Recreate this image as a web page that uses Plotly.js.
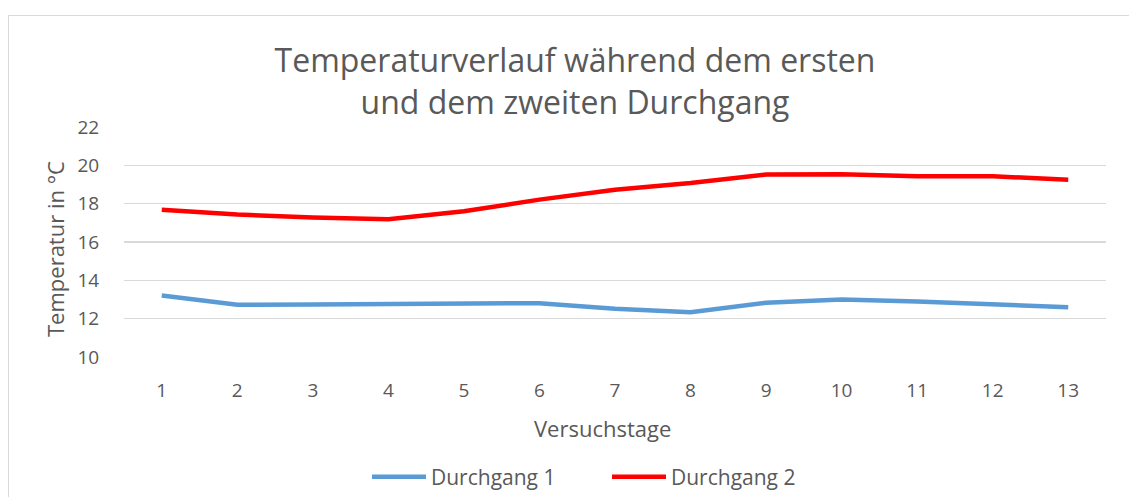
<!DOCTYPE html>
<html>
<head>
<meta charset="utf-8">
<script src="https://cdn.plot.ly/plotly-3.0.1.min.js"></script>
<style>
  html, body { margin: 0; padding: 0; background: #ffffff; }
  #frame { position: absolute; left: 8px; top: 15px; width: 1200px; height: 600px;
           border-left: 1px solid #d9d9d9; border-top: 1px solid #d9d9d9; }
  #chart { position: absolute; left: 0; top: 0; width: 1129px; height: 497px; }
</style>
</head>
<body>
<div id="frame"></div>
<div id="chart"></div>
<script>
const days = ['1','2','3','4','5','6','7','8','9','10','11','12','13'];
const durchgang1 = [13.21, 12.73, 12.74, 12.76, 12.83, 12.81, 12.52, 12.34, 12.83, 13.0, 12.9, 12.74, 12.6];
const durchgang2 = [17.68, 17.43, 17.28, 17.19, 17.6, 18.21, 18.73, 19.08, 19.52, 19.53, 19.43, 19.43, 19.25];
const yTicks = [10, 12, 14, 16, 18, 20, 22];

const font = 'Open Sans, Lato, sans-serif';
const grey = '#595959';
const W = 1129, H = 497;

const traces = [
  { x: days, y: durchgang1, type: 'scatter', mode: 'lines', name: 'Durchgang 1',
    line: { color: '#5b9bd5', width: 4.5, shape: 'linear' } },
  { x: days, y: durchgang2, type: 'scatter', mode: 'lines', name: 'Durchgang 2',
    line: { color: '#ff0000', width: 4.5, shape: 'linear' } }
];

const layout = {
  width: W, height: H,
  paper_bgcolor: 'rgba(0,0,0,0)', plot_bgcolor: 'rgba(0,0,0,0)',
  margin: { l: 124, r: 23, t: 127, b: 140 },
  font: { family: font, color: grey, size: 19 },
  title: { text: 'Temperaturverlauf während dem ersten<br>und dem zweiten Durchgang',
           font: { family: font, size: 32, color: grey },
           x: 575 / W, xanchor: 'center', xref: 'container',
           y: 1 - 72 / H, yanchor: 'middle', yref: 'container' },
  xaxis: {
    type: 'category', range: [-0.5, 12.5], showgrid: false, zeroline: false, showline: false,
    ticks: 'outside', ticklen: 16, tickcolor: 'rgba(0,0,0,0)',
    tickfont: { family: font, size: 19, color: grey }
  },
  yaxis: {
    range: [10, 22], tickvals: yTicks, ticktext: yTicks.map(String),
    showgrid: true, gridcolor: '#d9d9d9', gridwidth: 1.3, zeroline: false, showline: false,
    ticks: 'outside', ticklen: 20, tickcolor: 'rgba(0,0,0,0)',
    tickfont: { family: font, size: 19, color: grey }
  },
  annotations: [
    { text: 'Versuchstage', xref: 'paper', yref: 'paper', showarrow: false,
      x: (602 - 124) / (1106 - 124), y: -(428 - 357) / 230, xanchor: 'center', yanchor: 'middle',
      font: { family: font, size: 22, color: grey } },
    { text: 'Temperatur in °C', xref: 'paper', yref: 'paper', showarrow: false, textangle: -90,
      x: -(124 - 55) / 982, y: (357 - 249) / 230, xanchor: 'center', yanchor: 'middle',
      font: { family: font, size: 22, color: grey } }
  ],
  showlegend: true,
  legend: { orientation: 'h', x: 607 / W, xanchor: 'center', xref: 'container',
            y: 20 / H, yanchor: 'middle', yref: 'container',
            font: { family: font, size: 21, color: grey }, entrywidth: 171, itemwidth: 54,
            bgcolor: 'rgba(0,0,0,0)' }
};

Plotly.newPlot('chart', traces, layout, { displayModeBar: false, staticPlot: true });
</script>
</body>
</html>
